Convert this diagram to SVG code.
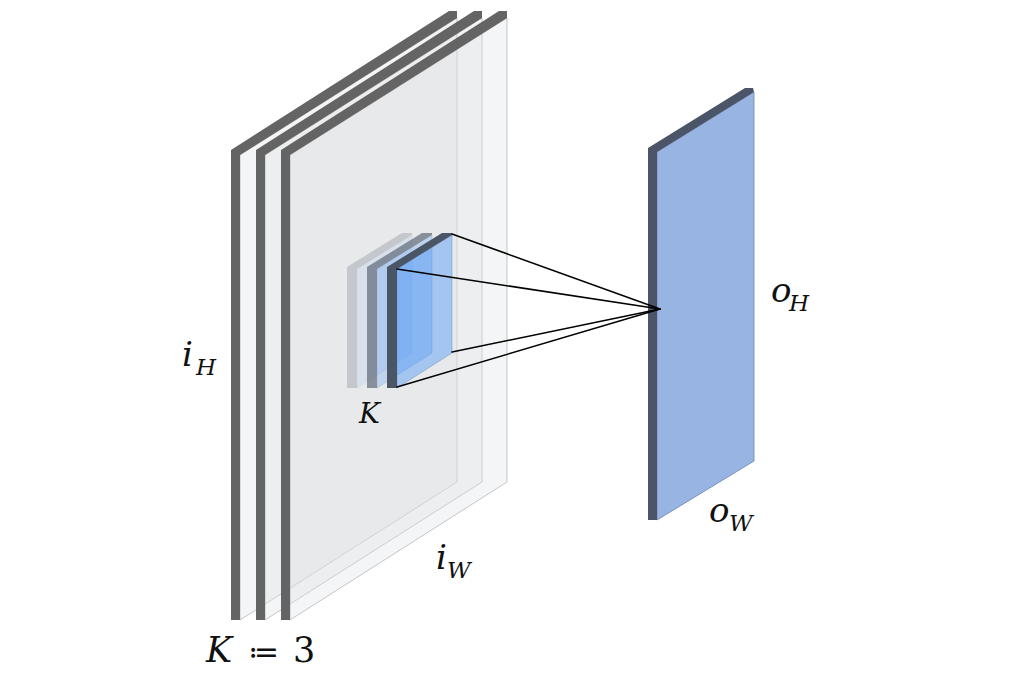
<svg xmlns="http://www.w3.org/2000/svg" width="1026" height="676" viewBox="0 0 1026 676">
  <defs>
    <style>
      .bface { fill: #dcdfe3; fill-opacity: 0.31; stroke: #9a9a9a; stroke-opacity: 0.55; stroke-width: 1; }
      .bdark { fill: #646464; }
      .kface { fill: rgb(10,117,253); fill-opacity: 0.3; stroke: #6f8fc0; stroke-opacity: 0.6; stroke-width: 0.8; }
      .kdark { fill: #4a5566; }
      .ml { font-family: "DejaVu Serif", "Liberation Serif", serif; font-style: italic; fill: #111; }
      .up { font-family: "DejaVu Serif", "Liberation Serif", serif; font-style: normal; fill: #111; }
      .conn { stroke: #000; stroke-width: 1.5; fill: none; stroke-linecap: round; }
    </style>
    <g id="bigslab">
      <path class="bface" d="M240,155 L457,18 L457,482 L240,620 Z"/>
      <path class="bdark" d="M231,150 L449,11 L457,11 L457,18 L240,155 L240,620 L231,620 Z"/>
    </g>
    <g id="kslab">
      <path class="kface" d="M357,269 L412,235 L412,353 L357,388 Z"/>
      <path class="kdark" d="M347,267 L402,233 L412,233 L412,235 L357,269 L357,388 L347,388 Z"/>
    </g>
  </defs>

  <rect width="1026" height="676" fill="#ffffff"/>

  <g id="input-slab-1"><use href="#bigslab"/></g>
  <g id="input-slab-2"><use href="#bigslab" transform="translate(25,0)"/></g>
  <g id="input-slab-3"><use href="#bigslab" transform="translate(50,0)"/></g>

  <g id="kernel-1" opacity="0.22"><use href="#kslab"/></g>
  <g id="kernel-2" opacity="0.6"><use href="#kslab" transform="translate(20,0)"/></g>
  <g id="kernel-3"><use href="#kslab" transform="translate(40,0)"/></g>

  <g id="output-plane">
    <path d="M657,152 L754,92 L754,461 L657,520 Z" fill="#98b4e2" stroke="#7b93bf" stroke-width="1"/>
    <path d="M648,148 L745,88 L753,88 L754,92 L657,152 L657,520 L648,520 Z" fill="#4b5567"/>
  </g>

  <g id="connectors">
    <path class="conn" d="M452,234 L660,309"/>
    <path class="conn" d="M397,269 L660,309"/>
    <path class="conn" d="M452,352 L660,309"/>
    <path class="conn" d="M397,387 L660,309"/>
  </g>

  <g id="labels">
    <text class="ml" x="182" y="366" font-size="34">i<tspan x="196" y="375" font-size="23">H</tspan></text>
    <text class="ml" x="359" y="423" font-size="28">K</text>
    <text x="206" y="662" font-size="35"><tspan class="ml">K</tspan><tspan class="up" x="248" font-family="DejaVu Sans" font-size="30">≔</tspan><tspan class="up" x="293">3</tspan></text>
    <text class="ml" x="436" y="569" font-size="34">i<tspan x="447" y="578" font-size="23">W</tspan></text>
    <text class="ml" x="709" y="522" font-size="34">o<tspan x="729" y="531" font-size="23">W</tspan></text>
    <text class="ml" x="771" y="302" font-size="34">o<tspan x="789" y="311" font-size="23">H</tspan></text>
  </g>
</svg>
